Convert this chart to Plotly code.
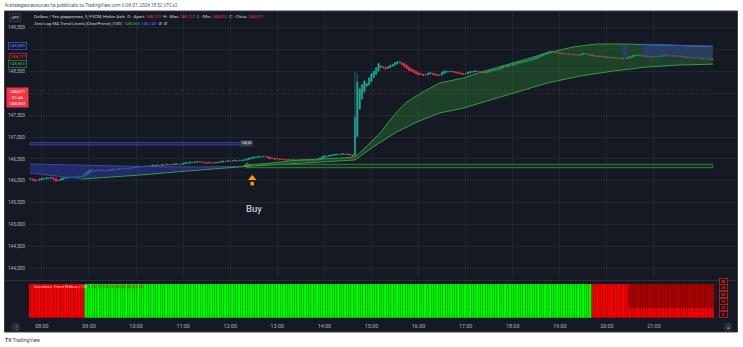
import plotly.graph_objects as go
from datetime import datetime, timedelta

W, H = 743, 347
FONT = "Roboto, 'Liberation Sans', sans-serif"

# ---------------- data ----------------
DAY = "2024-10-07"
first_bar = "07:45"
bar_minutes = 3

# Heikin Ashi closes, one per 3-minute bar
closes = [
    146.05, 146.02, 145.99, 146.01, 146.04, 146.06, 146.05, 146.07, 146.06, 146.08,
    146.03, 145.99, 146.00, 146.05, 146.07, 146.08, 146.07, 146.09, 146.08, 146.10,
    146.09, 146.11, 146.10, 146.16, 146.21, 146.24, 146.25, 146.23, 146.22, 146.24,
    146.25, 146.23, 146.22, 146.24, 146.26, 146.27, 146.25, 146.27, 146.28, 146.27,
    146.28, 146.29, 146.28, 146.30, 146.32, 146.31, 146.33, 146.32, 146.33, 146.34,
    146.33, 146.34, 146.36, 146.35, 146.36, 146.35, 146.37, 146.36, 146.38, 146.37,
    146.36, 146.38, 146.39, 146.37, 146.38, 146.40, 146.42, 146.41, 146.43, 146.42,
    146.43, 146.44, 146.43, 146.42, 146.41, 146.40, 146.42, 146.41, 146.40, 146.42,
    146.43, 146.44, 146.45, 146.44, 146.46, 146.45, 146.46, 146.47, 146.45, 146.46,
    146.47, 146.48, 146.50, 146.52, 146.53, 146.55, 146.54, 146.56, 146.55, 146.56,
    146.55, 146.52, 146.50, 146.51, 146.49, 146.50, 146.48, 146.49, 146.48, 146.47,
    146.48, 146.47, 146.48, 146.46, 146.47, 146.46, 146.48, 146.47, 146.46, 146.47,
    146.48, 146.47, 146.49, 146.52, 146.55, 146.57, 146.56, 146.58, 146.59, 146.60,
    146.61, 146.60, 146.61, 146.62, 146.60, 146.61, 146.58, 146.56, 147.45, 148.25,
    148.10, 148.20, 148.28, 148.22, 148.35, 148.45, 148.50, 148.58, 148.68, 148.62,
    148.58, 148.55, 148.60, 148.64, 148.66, 148.70, 148.72, 148.71, 148.65, 148.60,
    148.56, 148.52, 148.50, 148.47, 148.44, 148.42, 148.43, 148.40, 148.42, 148.46,
    148.47, 148.43, 148.41, 148.40, 148.42, 148.48, 148.51, 148.50, 148.49, 148.50,
    148.48, 148.46, 148.45, 148.44, 148.43, 148.45, 148.48, 148.50, 148.49, 148.51,
    148.50, 148.48, 148.47, 148.46, 148.49, 148.53, 148.52, 148.55, 148.54, 148.57,
    148.60, 148.62, 148.61, 148.64, 148.66, 148.68, 148.67, 148.70, 148.71, 148.72,
    148.74, 148.75, 148.76, 148.78, 148.80, 148.83, 148.86, 148.88, 148.90, 148.92,
    148.94, 148.96, 148.95, 148.93, 148.92, 148.90, 148.91, 148.89, 148.90, 148.88,
    148.89, 148.87, 148.88, 148.86, 148.89, 148.91, 148.90, 148.88, 148.86, 148.85,
    148.84, 148.83, 148.85, 148.83, 148.82, 148.81, 148.82, 148.80, 148.81, 148.80,
    148.79, 148.80, 148.78, 148.79, 148.82, 148.85, 148.87, 148.86, 148.88, 148.87,
    148.85, 148.84, 148.83, 148.84, 148.82, 148.83, 148.84, 148.85, 148.84, 148.86,
    148.87, 148.86, 148.85, 148.84, 148.86, 148.85, 148.84, 148.83, 148.82, 148.81,
    148.82, 148.81, 148.80, 148.81, 148.80, 148.79, 148.78, 148.79, 148.78, 148.77, 148.77,
]
ha_first_open = 146.04
wick_high = {138: 148.484, 139: 148.45}
wick_low = {}
wick_default = 0.008

# Zero-Lag MA Trend Levels: bearish band (start of session)
bear_t = ["07:45", "08:52", "10:05", "11:21", "12:21"]
bear_top = [146.384, 146.350, 146.327, 146.315, 146.330]
bear_bot = [146.178, 146.041, 146.133, 146.247, 146.330]
# bullish band
bull_up_t = ["12:21", "13:29", "14:33", "14:39", "14:49", "15:11", "15:32", "15:45", "16:06",
             "16:27", "16:57", "17:18", "18:00", "18:44", "19:17", "19:47", "20:20", "20:45", "22:15"]
bull_up_p = [146.350, 146.475, 146.530, 146.543, 146.700, 147.090, 147.570, 147.800, 148.030,
             148.233, 148.347, 148.470, 148.690, 148.918, 149.055, 149.123, 149.123, 149.115, 149.069]
bull_lo_t = ["12:21", "13:29", "14:33", "14:39", "15:02", "15:32", "15:58", "16:27", "16:57",
             "17:18", "18:00", "18:44", "19:26", "20:08", "20:51", "21:33", "22:15"]
bull_lo_p = [146.330, 146.406, 146.463, 146.475, 146.772, 147.114, 147.343, 147.548, 147.660,
             147.776, 148.005, 148.233, 148.393, 148.507, 148.598, 148.644, 148.663]
# bearish flips shown in blue on top of the band
flip1_t = ["20:19", "20:26"]
flip1_top = [149.123, 149.123]
flip1_bot = [148.800, 148.800]
flip2_t = ["20:45", "21:30", "22:15"]
flip2_top = [149.115, 149.095, 149.069]
flip2_bot = [148.830, 148.820, 148.780]

# levels
blue_level_t = ["07:45", "12:21"]
blue_level_p = [146.818, 146.870]
blue_level_label = "146,82"
green_level_t = ["12:21", "22:15"]
green_level_p = [146.300, 146.377]
buy_t, buy_p = "12:21", 146.350
arrow_t, arrow_head_p, arrow_tail_p = "12:28", 146.060, 145.935
buy_text_t, buy_text_p = "12:30", 145.360

last_price = 148.071
price_label_lines = ["148,071", "01:46", "148,069"]
axis_boxes = [("149,069", 149.069, "#3d4ed8", "#7b87ff", 0.0),
              ("148,771", 148.771, "#c62828", "#f23645", 2.7),
              ("148,663", 148.663, "#2e7d32", "#4caf50", 0.0)]

price_ticks = [144.0, 144.5, 145.0, 145.5, 146.0, 146.5, 147.0, 147.5, 148.0, 148.5, 149.0, 149.5]
hidden_ticks = [148.0, 149.0]   # covered by the scale labels in the picture
hour_ticks = ["08:00", "09:00", "10:00", "11:00", "12:00", "13:00", "14:00",
              "15:00", "16:00", "17:00", "18:00", "19:00", "20:00", "21:00"]

hdr_open, hdr_high, hdr_low, hdr_close = 148.122, 148.122, 148.051, 148.071
zl_green_val, zl_blue_val = 148.065, 148.140

ribbon_segments = [("07:45", "bear"), ("08:57", "bull"), ("19:42", "bear"), ("20:30", "bear_weak")]
ribbon_lengths = [5, 10, 15, 20, 25, 30, 35, 40, 45, 50]

# ---------------- helpers ----------------
def T(hm):
    return f"{DAY} {hm}:00"

def fmt(v):
    return f"{v:.3f}".replace(".", ",")

def py(px):  # pixel row -> paper y
    return 1 - px / H

def pxx(px):  # pixel column -> paper x
    return px / W

t0 = datetime.strptime(f"{DAY} {first_bar}", "%Y-%m-%d %H:%M")
times = [t0 + timedelta(minutes=bar_minutes * i) for i in range(len(closes))]

opens, highs, lows = [], [], []
prev_o, prev_c = None, None
for i, c in enumerate(closes):
    o = ha_first_open if i == 0 else (prev_o + prev_c) / 2
    hi = max(o, c, wick_high.get(i, max(o, c) + wick_default))
    lo = min(o, c, wick_low.get(i, min(o, c) - wick_default))
    opens.append(o); highs.append(hi); lows.append(lo)
    prev_o, prev_c = o, c

BG = "#151924"
GRID = "#22262f"
UP = "#22ab94"
DN = "#f23645"
GREEN_L = "#3a9a48"
BLUE_L = "#3949ab"

fig = go.Figure()

# bearish band (blue)
fig.add_trace(go.Scatter(x=[T(t) for t in bear_t] + [T(t) for t in bear_t[::-1]],
                         y=bear_top + bear_bot[::-1], fill="toself",
                         fillcolor="rgba(45,58,160,0.55)", line=dict(width=0),
                         mode="lines", hoverinfo="skip", showlegend=False))
fig.add_trace(go.Scatter(x=[T(t) for t in bear_t], y=bear_top, mode="lines",
                         line=dict(color=BLUE_L, width=1), showlegend=False))
fig.add_trace(go.Scatter(x=[T(t) for t in bear_t[:2]], y=bear_bot[:2], mode="lines",
                         line=dict(color=BLUE_L, width=1), showlegend=False))
fig.add_trace(go.Scatter(x=[T(t) for t in bear_t[1:]], y=bear_bot[1:], mode="lines",
                         line=dict(color=GREEN_L, width=1), showlegend=False))

# bullish band (green)
fig.add_trace(go.Scatter(x=[T(t) for t in bull_up_t] + [T(t) for t in bull_lo_t[::-1]],
                         y=bull_up_p + bull_lo_p[::-1], fill="toself",
                         fillcolor="rgba(46,125,50,0.40)", line=dict(width=0),
                         mode="lines", hoverinfo="skip", showlegend=False))
for ft, ftop, fbot in [(flip1_t, flip1_top, flip1_bot), (flip2_t, flip2_top, flip2_bot)]:
    fig.add_trace(go.Scatter(x=[T(t) for t in ft] + [T(t) for t in ft[::-1]],
                             y=ftop + fbot[::-1], fill="toself",
                             fillcolor="rgba(50,60,160,0.45)", line=dict(width=0),
                             mode="lines", hoverinfo="skip", showlegend=False))
fig.add_trace(go.Scatter(x=[T(t) for t in bull_up_t], y=bull_up_p, mode="lines",
                         line=dict(color=GREEN_L, width=1), showlegend=False))
fig.add_trace(go.Scatter(x=[T(t) for t in bull_lo_t], y=bull_lo_p, mode="lines",
                         line=dict(color=GREEN_L, width=1), showlegend=False))
fig.add_trace(go.Scatter(x=[T(t) for t in flip2_t], y=flip2_top, mode="lines",
                         line=dict(color="#3f51d0", width=1.2), showlegend=False))

# candles
fig.add_trace(go.Candlestick(
    x=times, open=opens, high=highs, low=lows, close=closes,
    increasing=dict(line=dict(color=UP, width=0.6), fillcolor=UP),
    decreasing=dict(line=dict(color=DN, width=0.6), fillcolor=DN),
    whiskerwidth=0, showlegend=False, hoverinfo="skip"))

# buy marker and arrow
fig.add_trace(go.Scatter(x=[T(buy_t)], y=[buy_p], mode="markers",
                         marker=dict(symbol="cross-thin", size=4, line=dict(color="#4caf50", width=1.5)),
                         showlegend=False))
fig.add_trace(go.Scatter(x=[T(arrow_t)], y=[arrow_head_p], mode="markers",
                         marker=dict(symbol="triangle-up", size=7, color="#ff9800", line=dict(width=0)),
                         showlegend=False))
fig.add_trace(go.Scatter(x=[T(arrow_t)], y=[arrow_tail_p], mode="markers",
                         marker=dict(symbol="square", size=3.5, color="#ff9800", line=dict(width=0)),
                         showlegend=False))

# ribbon
def seg_state(t):
    st = ribbon_segments[0][1]
    for s, name in ribbon_segments:
        if t >= datetime.strptime(f"{DAY} {s}", "%Y-%m-%d %H:%M"):
            st = name
    return st

states = [seg_state(t) for t in times]
low_col = {"bull": "#00ff00", "bear": "#ff0000", "bear_weak": "#ff0000"}
up_col = {"bull": "#00ff00", "bear": "#ff0000", "bear_weak": "#b00000"}
low_edge = {"bull": "#00a800", "bear": "#a80000", "bear_weak": "#a80000"}
up_edge = {"bull": "#00a800", "bear": "#a80000", "bear_weak": "#6e0000"}
bw = bar_minutes * 60000
fig.add_trace(go.Bar(x=times, y=[5.6] * len(times), base=-0.5, width=bw,
                     marker=dict(color=[low_col[s] for s in states],
                                 line=dict(width=0.5, color=[low_edge[s] for s in states])),
                     xaxis="x2", yaxis="y2", showlegend=False, hoverinfo="skip"))
weak_idx = [i for i, s in enumerate(states) if s == "bear_weak"]
fig.add_trace(go.Bar(x=[times[i] for i in weak_idx], y=[4.0] * len(weak_idx), base=1.0, width=bw,
                     marker=dict(color=up_col["bear_weak"],
                                 line=dict(width=0.5, color=up_edge["bear_weak"])),
                     xaxis="x2", yaxis="y2", showlegend=False, hoverinfo="skip"))

# ---------------- shapes ----------------
shapes = [
    dict(type="rect", xref="paper", yref="paper", x0=pxx(4.5), x1=pxx(737.5), y0=py(332), y1=py(11),
         fillcolor=BG, line=dict(color="#3a3e48", width=1), layer="below"),
    dict(type="line", xref="paper", yref="paper", x0=pxx(5), x1=pxx(737), y0=py(280.5), y1=py(280.5),
         line=dict(color="#2a2e39", width=1)),
    dict(type="rect", xref="x", yref="y", x0=T(blue_level_t[0]), x1=T(blue_level_t[1]),
         y0=blue_level_p[0], y1=blue_level_p[1], fillcolor="rgba(57,73,171,0.15)",
         line=dict(color="#3949ab", width=1)),
    dict(type="rect", xref="x", yref="y", x0=T(green_level_t[0]), x1=T(green_level_t[1]),
         y0=green_level_p[0], y1=green_level_p[1], fillcolor="rgba(46,125,50,0.18)",
         line=dict(color="#2e7d32", width=1)),
    dict(type="line", xref="x", yref="y", x0=times[0], x1=times[-1], y0=last_price, y1=last_price,
         line=dict(color="rgba(242,54,69,0.30)", width=1, dash="dot")),
    dict(type="circle", xref="paper", yref="paper", x0=pxx(11.5), x1=pxx(20.5), y0=py(331.5), y1=py(322.5),
         fillcolor="#2a2e39", line=dict(width=0)),
    dict(type="circle", xref="paper", yref="paper", x0=pxx(723.5), x1=pxx(732.5), y0=py(331.5), y1=py(322.5),
         fillcolor="#2a2e39", line=dict(width=0)),
]

# ---------------- annotations ----------------
LBL = "#d1d4dc"
ann = []
ann.append(dict(xref="paper", yref="paper", x=pxx(3), y=py(5.5), xanchor="left", yanchor="middle",
                text="fxstrategiesresources ha pubblicato su TradingView.com il Ott 07, 2024 18:52 UTC+2",
                showarrow=False, font=dict(family=FONT, size=4.6, color="#555")))
ann.append(dict(xref="paper", yref="paper", x=pxx(3), y=py(340), xanchor="left", yanchor="middle",
                text="<b>TV</b> TradingView", showarrow=False,
                font=dict(family=FONT, size=5, color="#444")))
r = f"<span style='color:{DN}'>"
hdr1 = (f"Dollaro / Yen giapponese, 3, FXCM, Heikin Ashi  O - Apert.{r}{fmt(hdr_open)}</span>  "
        f"H - Max.{r}{fmt(hdr_high)}</span>  L - Min.{r}{fmt(hdr_low)}</span>  "
        f"C - Chius.{r}{fmt(hdr_close)}</span>")
ann.append(dict(xref="paper", yref="paper", x=pxx(32), y=py(16.5), xanchor="left", yanchor="middle",
                text=hdr1, showarrow=False, font=dict(family=FONT, size=4.4, color=LBL)))
hdr2 = (f"Zero-Lag MA Trend Levels [ChartPrime] (100)  <span style='color:#4caf50'>{fmt(zl_green_val)}</span> "
        f"<span style='color:#5b6cff'>{fmt(zl_blue_val)}</span>  Ø  Ø")
ann.append(dict(xref="paper", yref="paper", x=pxx(32), y=py(23.3), xanchor="left", yanchor="middle",
                text=hdr2, showarrow=False, font=dict(family=FONT, size=4.4, color=LBL)))
ann.append(dict(xref="paper", yref="paper", x=pxx(14.5), y=py(17.5), xanchor="center", yanchor="middle",
                text="JPY", showarrow=False, bgcolor="#1e222d", bordercolor="#434651", borderwidth=0.6,
                borderpad=1.5, font=dict(family=FONT, size=4.4, color=LBL)))
for txt, val, bc, fc, ysh in axis_boxes:
    ann.append(dict(xref="paper", yref="y", x=pxx(17.5), y=val, yshift=ysh, xanchor="center",
                    yanchor="middle", text=txt, showarrow=False, bgcolor=BG, bordercolor=bc,
                    borderwidth=0.8, borderpad=0.6, font=dict(family=FONT, size=4.4, color=fc)))
ann.append(dict(xref="paper", yref="y", x=pxx(17.5), y=last_price, yshift=3.5, xanchor="center",
                yanchor="top", text="<br>".join(price_label_lines), showarrow=False,
                bgcolor=DN, borderpad=1.2, width=19, font=dict(family=FONT, size=4.4, color="white")))
ann.append(dict(xref="x", yref="y", x=T(blue_level_t[1]), y=(blue_level_p[0] + blue_level_p[1]) / 2,
                xanchor="center", yanchor="middle", text=blue_level_label, showarrow=False,
                bgcolor="#3a3e4a", borderpad=0.3, font=dict(family=FONT, size=3.6, color="#e0e0e0")))
ann.append(dict(xref="x", yref="y", x=T(buy_text_t), y=buy_text_p, xanchor="center", yanchor="middle",
                text="Buy", showarrow=False, font=dict(family=FONT, size=9.5, color="#e8e8e8")))
rib_title = ("Donchian Trend Ribbon (15) <span style='color:#d50000'>"
             + " ".join(str(v) for v in ribbon_lengths) + "</span>")
ann.append(dict(xref="paper", yref="paper", x=pxx(32), y=py(286.5), xanchor="left", yanchor="middle",
                text=rib_title, showarrow=False, font=dict(family=FONT, size=4.3, color="#f3d0d0")))
rib_label_px = [314, 307.5, 301, 294, 287, 281.5]
for v, ypx in zip(ribbon_lengths[:6], rib_label_px):
    ann.append(dict(xref="paper", yref="paper", x=pxx(723), y=py(ypx), xanchor="center", yanchor="middle",
                    text=str(v), showarrow=False, bgcolor="#2a0a0a", bordercolor="#c62828",
                    borderwidth=0.7, borderpad=0.3, width=7,
                    font=dict(family=FONT, size=4, color="#ff5252")))
ann.append(dict(xref="paper", yref="paper", x=pxx(728), y=py(327), xanchor="center", yanchor="middle",
                text="A", showarrow=False, font=dict(family=FONT, size=4, color="#b2b5be")))
ann.append(dict(xref="paper", yref="paper", x=pxx(16), y=py(327), xanchor="center", yanchor="middle",
                text="⋮", showarrow=False, font=dict(family=FONT, size=4.5, color="#b2b5be")))

x_range = [f"{DAY} 07:43:33", f"{DAY} 22:45:50"]
xd = [pxx(29), pxx(737)]

fig.update_layout(
    width=W, height=H, autosize=False, margin=dict(l=0, r=0, t=0, b=0),
    paper_bgcolor="white", plot_bgcolor=BG, separators=",.",
    showlegend=False, barmode="overlay", bargap=0, boxgap=0.2,
    font=dict(family=FONT, color="#b2b5be"),
    xaxis=dict(domain=xd, range=x_range, type="date", anchor="y",
               tickvals=[T(h) for h in hour_ticks], showticklabels=False,
               showgrid=True, gridcolor=GRID, gridwidth=1, zeroline=False,
               rangeslider=dict(visible=False), showline=False, ticks=""),
    xaxis2=dict(domain=xd, range=x_range, type="date", anchor="y2", matches="x",
                tickvals=[T(h) for h in hour_ticks], tickformat="%H:%M",
                tickfont=dict(size=5.4, color="#b2b5be"), ticks="", ticklabelstandoff=4,
                showgrid=False, zeroline=False, showline=False),
    yaxis=dict(domain=[py(278), py(12)], range=[143.781, 149.854], anchor="x", side="left",
               tickvals=price_ticks,
               ticktext=["" if v in hidden_ticks else fmt(v) for v in price_ticks],
               tickfont=dict(size=4.8, color="#b2b5be"),
               ticks="", ticklabelstandoff=3, showgrid=True, gridcolor=GRID, zeroline=False,
               showline=False, fixedrange=True),
    yaxis2=dict(domain=[py(318), py(284)], range=[-0.5, 4.6], anchor="x2",
                showticklabels=False, showgrid=False, zeroline=False, showline=False),
    shapes=shapes, annotations=ann,
)

fig.write_html("out.html")
